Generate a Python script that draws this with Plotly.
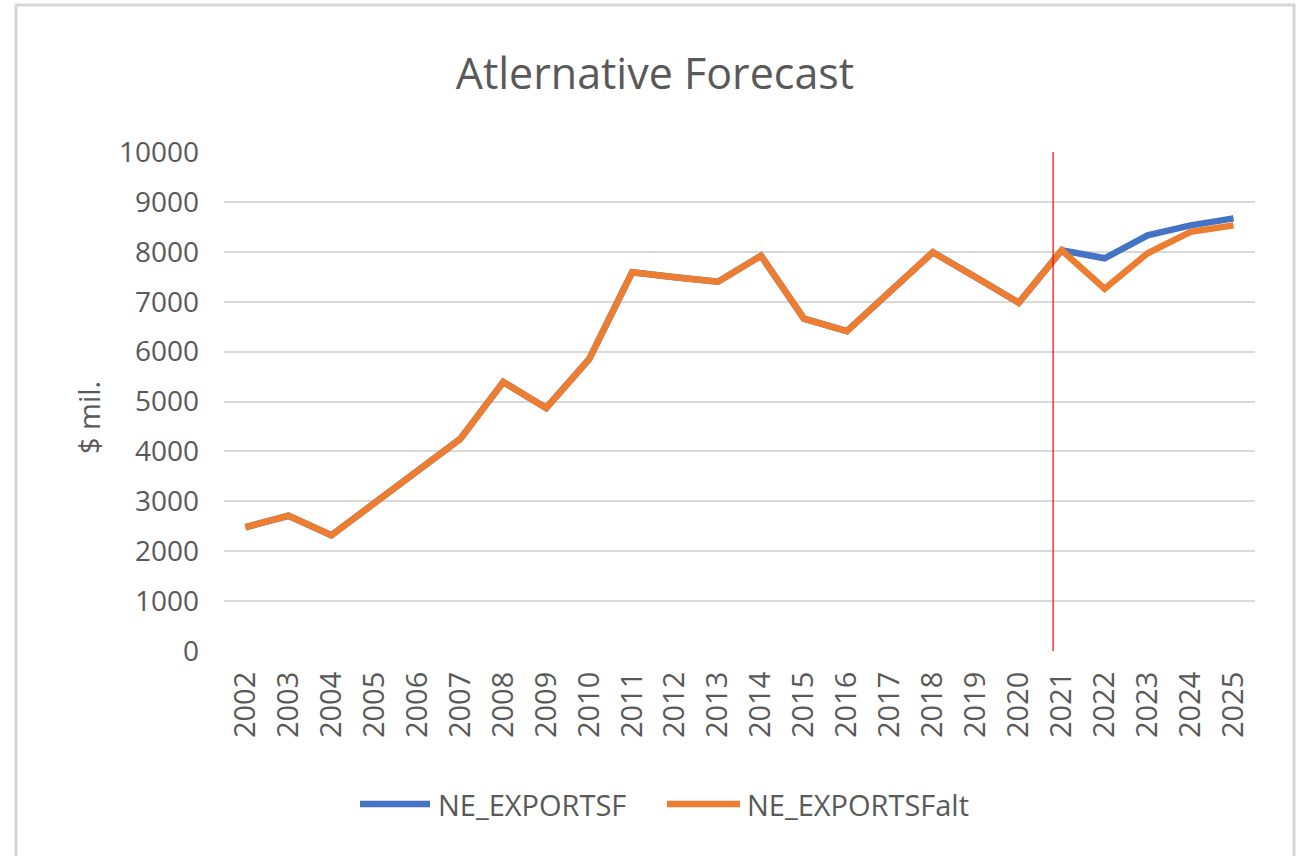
import plotly.graph_objects as go

# Annual exports, $ millions
years = list(range(2002, 2026))
ne_exportsf = [2480, 2710, 2320, 2970, 3590, 4250, 5390, 4870, 5850, 7590,
               7490, 7400, 7920, 6660, 6410, 7210, 7990, 7490, 6980, 8030,
               7870, 8330, 8530, 8670]
ne_exportsf_alt = [2480, 2710, 2320, 2970, 3590, 4250, 5390, 4870, 5850, 7590,
                   7490, 7400, 7920, 6660, 6410, 7210, 7990, 7490, 6980, 8030,
                   7260, 7970, 8400, 8530]
series_names = ["NE_EXPORTSF", "NE_EXPORTSFalt"]
series_colors = ["#4472C4", "#ED7D31"]
forecast_marker = 2020.8

FONT = "Open Sans"
GREY = "#595959"

fig = go.Figure()
for name, vals, col in zip(series_names, [ne_exportsf, ne_exportsf_alt], series_colors):
    fig.add_trace(go.Scatter(x=years, y=vals, mode="lines", name=name,
                             line=dict(color=col, width=6.5),
                             showlegend=False))

# forecast start marker
fig.add_shape(type="line", xref="x", yref="y", x0=forecast_marker, x1=forecast_marker,
              y0=0, y1=10000, line=dict(color="#FF0000", width=1.2))

# chart frame
fig.add_shape(type="rect", xref="paper", yref="paper",
              x0=-0.2017, x1=1.0378, y0=-0.43, y1=1.2946,
              line=dict(color="#D6D6D6", width=3), layer="below")

# legend (drawn manually for long line keys)
legend_items = [(360, 430, 436), (667, 740, 745)]
ly = (651 - 804) / 499
for (x0, x1, tx), name, col in zip(legend_items, series_names, series_colors):
    fig.add_shape(type="line", xref="paper", yref="paper",
                  x0=(x0 - 224) / 1031, x1=(x1 - 224) / 1031, y0=ly, y1=ly,
                  line=dict(color=col, width=6.5))
    fig.add_annotation(xref="paper", yref="paper", x=(tx - 224) / 1031, y=ly,
                       text=name, showarrow=False, xanchor="left", yanchor="middle",
                       font=dict(family=FONT, size=29, color=GREY))

# y-axis title
fig.add_annotation(xref="paper", yref="paper", x=(88 - 224) / 1031, y=(651 - 418) / 499,
                   text="$ mil.", textangle=-90, showarrow=False,
                   xanchor="center", yanchor="middle",
                   font=dict(family=FONT, size=29, color=GREY))

fig.update_layout(
    width=1302, height=856,
    margin=dict(l=224, r=47, t=152, b=205),
    paper_bgcolor="white", plot_bgcolor="white",
    title=dict(text="Atlernative Forecast", x=0.503, xanchor="center",
               y=1 - 74 / 856, yanchor="middle",
               font=dict(family=FONT, size=43, color=GREY)),
    xaxis=dict(range=[2001.5, 2025.5], tickmode="array", tickvals=years,
               ticktext=[str(y) for y in years], tickangle=-90,
               showgrid=False, zeroline=False, showline=False,
               ticks="", ticklabelstandoff=14,
               tickfont=dict(family=FONT, size=29, color=GREY)),
    yaxis=dict(range=[0, 10000], dtick=1000, tickformat="d", showgrid=True,
               gridcolor="#D9D9D9", gridwidth=2, zeroline=False, showline=False,
               ticks="", ticklabelstandoff=24,
               tickfont=dict(family=FONT, size=28, color=GREY)),
    showlegend=False,
)

fig.write_html("out.html")
